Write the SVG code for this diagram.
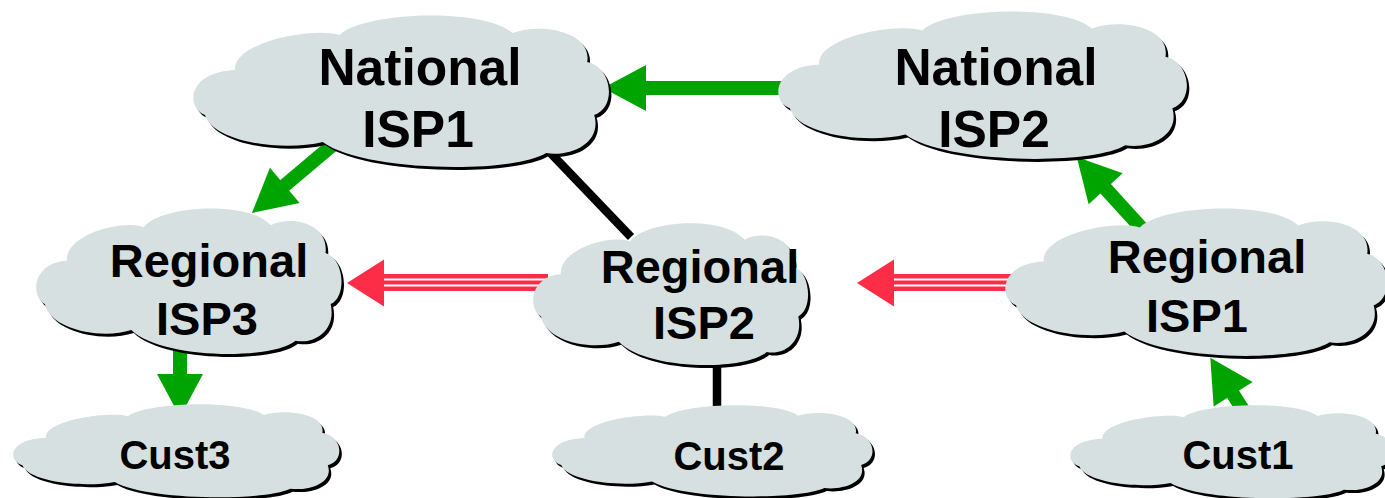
<svg xmlns="http://www.w3.org/2000/svg" width="1385" height="498" viewBox="0 0 1385 498">
<style>
.cloud{fill:#d6e0e0}
.shadow{fill:#000}
.lbl{font-family:"Liberation Sans",Arial,sans-serif;font-weight:bold;fill:#000;text-anchor:middle}
.big{font-size:51.5px}
.mid{font-size:47px}
.small{font-size:40px}
.g{stroke:#00a400;stroke-width:14;fill:none}
.k{stroke:#000;stroke-width:8.5;fill:none}
.rb{stroke:#fd2d48;stroke-width:17;fill:none}
.rw{stroke:#fff;stroke-width:2;fill:none}
</style>
<defs>
<path id="cl" d="M42,58 C40,30 120,15 147,23 C170,0 290,-5 320,21 C350,10 400,20 395,50 C420,55 425,95 402,103 C410,130 380,145 354,141 C320,162 170,160 130,130 C90,140 20,130 12,103 C-8,95 -5,60 42,58 Z"/>
<marker id="ga" markerUnits="userSpaceOnUse" viewBox="0 -24 43 48" refX="0" refY="0" markerWidth="43" markerHeight="48" orient="auto" overflow="visible">
<path d="M-1,-23 L42,0 L-1,23 Z" fill="#00a400"/>
</marker>
</defs>
<g id="connectors">
<line class="k" x1="540" y1="142" x2="631" y2="237"/>
<line class="k" x1="717" y1="360" x2="717" y2="412"/>
<line class="g" x1="790" y1="88" x2="645" y2="88" marker-end="url(#ga)"/>
<line class="g" x1="335" y1="143" x2="284" y2="186" marker-end="url(#ga)"/>
<line class="g" x1="1145" y1="232" x2="1105" y2="188" marker-end="url(#ga)"/>
<line class="g" x1="1248" y1="418" x2="1232.6" y2="393.4" marker-end="url(#ga)"/>
<line class="g" x1="180" y1="345" x2="180" y2="375" marker-end="url(#ga)"/>
<g id="red1">
<line class="rb" x1="383" y1="282.5" x2="548" y2="282.5"/>
<line class="rw" x1="383" y1="279.5" x2="548" y2="279.5"/>
<line class="rw" x1="383" y1="285.5" x2="548" y2="285.5"/>
<polygon points="347,283 384,259.5 384,306.5" fill="#fd2d48"/>
</g>
<g id="red2">
<line class="rb" x1="893" y1="282.5" x2="1020" y2="282.5"/>
<line class="rw" x1="893" y1="279.5" x2="1020" y2="279.5"/>
<line class="rw" x1="893" y1="285.5" x2="1020" y2="285.5"/>
<polygon points="857,283 894,259.5 894,306.5" fill="#fd2d48"/>
</g>
</g>
<g id="national-isp1">
<use href="#cl" class="shadow" transform="translate(195.5,15) scale(0.998,1)"/>
<use href="#cl" class="cloud" transform="translate(193,12) scale(0.998,1)"/>
<text class="lbl big" x="420" y="85">National</text>
<text class="lbl big" x="418" y="147">ISP1</text>
</g>
<g id="national-isp2">
<use href="#cl" class="shadow" transform="translate(780.5,11) scale(0.981,0.974)"/>
<use href="#cl" class="cloud" transform="translate(778,8) scale(0.981,0.974)"/>
<text class="lbl big" x="996" y="85">National</text>
<text class="lbl big" x="994" y="147">ISP2</text>
</g>
<g id="regional-isp3">
<use href="#cl" class="shadow" transform="translate(38.5,208) scale(0.733,0.962)"/>
<use href="#cl" class="cloud" transform="translate(36,205) scale(0.733,0.962)"/>
<text class="lbl mid" x="209" y="277">Regional</text>
<text class="lbl mid" x="207" y="335">ISP3</text>
</g>
<g id="regional-isp2">
<use href="#cl" class="shadow" transform="translate(535.5,223) scale(0.66,0.936)"/>
<use href="#cl" class="cloud" transform="translate(533,220) scale(0.66,0.936)"/>
<text class="lbl mid" x="700" y="283">Regional</text>
<text class="lbl mid" x="704" y="339">ISP2</text>
</g>
<g id="regional-isp1">
<use href="#cl" class="shadow" transform="translate(1007.5,208) scale(0.917,0.974)"/>
<use href="#cl" class="cloud" transform="translate(1005,205) scale(0.917,0.974)"/>
<text class="lbl mid" x="1207" y="273">Regional</text>
<text class="lbl mid" x="1197" y="332">ISP1</text>
</g>
<g id="cust3">
<use href="#cl" class="shadow" transform="translate(15.5,405) scale(0.783,0.615)"/>
<use href="#cl" class="cloud" transform="translate(13,402) scale(0.783,0.615)"/>
<text class="lbl small" x="175" y="469">Cust3</text>
</g>
<g id="cust2">
<use href="#cl" class="shadow" transform="translate(554.5,406) scale(0.769,0.603)"/>
<use href="#cl" class="cloud" transform="translate(552,403) scale(0.769,0.603)"/>
<text class="lbl small" x="729" y="470">Cust2</text>
</g>
<g id="cust1">
<use href="#cl" class="shadow" transform="translate(1072.5,406) scale(0.774,0.615)"/>
<use href="#cl" class="cloud" transform="translate(1070,403) scale(0.774,0.615)"/>
<text class="lbl small" x="1238" y="469">Cust1</text>
</g>
</svg>
